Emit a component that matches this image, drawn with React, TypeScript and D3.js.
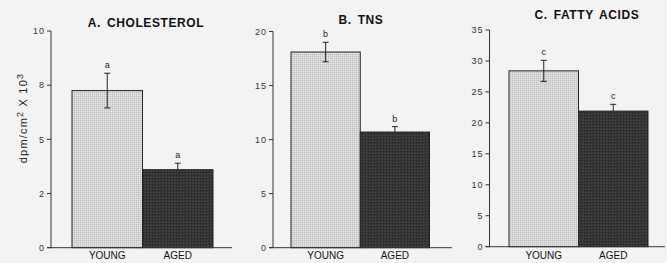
import React from "react";
import * as d3 from "d3";

const categories = ["YOUNG", "AGED"];
const panelTitles = ["A. CHOLESTEROL", "B. TNS", "C. FATTY ACIDS"];
const panelLetters = ["a", "b", "c"];
const cholesterol = [7.25, 3.6];
const cholesterolErr = [0.8, 0.3];
const tns = [18.1, 10.7];
const tnsErr = [0.9, 0.5];
const fattyAcids = [28.4, 21.9];
const fattyAcidsErr = [1.7, 1.1];
const cholTicks = [0, 2.5, 5, 7.5, 10];
const cholTickLabels = ["0", "2", "5", "8", "10"];
const tnsTicks = [0, 5, 10, 15, 20];
const fattyTicks = [0, 5, 10, 15, 20, 25, 30, 35];

const panels = [
  { title: panelTitles[0], letter: panelLetters[0], values: cholesterol, errs: cholesterolErr, max: 10, ticks: cholTicks, labels: cholTickLabels, axisX: 51, barL: 72, barR: 213, lineR: 232, y0: 247.7, yTop: 31, titleX: 146, titleY: 27 },
  { title: panelTitles[1], letter: panelLetters[1], values: tns, errs: tnsErr, max: 20, ticks: tnsTicks, labels: tnsTicks.map(String), axisX: 273, barL: 291, barR: 429.5, lineR: 452, y0: 247.7, yTop: 31.5, titleX: 361, titleY: 24 },
  { title: panelTitles[2], letter: panelLetters[2], values: fattyAcids, errs: fattyAcidsErr, max: 35, ticks: fattyTicks, labels: fattyTicks.map(String), axisX: 489.5, barL: 509, barR: 648, lineR: 665, y0: 246.7, yTop: 30, titleX: 587, titleY: 19 },
];

const font = "'Liberation Sans', Arial, sans-serif";

export default function App() {
  return (
    <svg width={667} height={263} style={{ position: "absolute", left: 0, top: 0, background: "#f3f3f3" }} fontFamily={font}>
      <defs>
        <pattern id="light" width={2} height={2} patternUnits="userSpaceOnUse">
          <rect width={2} height={2} fill="#d6d6d6" />
          <rect width={1} height={1} fill="#bdbdbd" />
          <rect x={1} y={1} width={1} height={1} fill="#e6e6e6" />
        </pattern>
        <pattern id="dark" width={3} height={3} patternUnits="userSpaceOnUse">
          <rect width={3} height={3} fill="#333" />
          <rect width={1} height={1} fill="#4a4a4a" />
          <rect x={2} y={1} width={1} height={1} fill="#232323" />
          <rect x={1} y={2} width={1} height={1} fill="#404040" />
        </pattern>
      </defs>
      <rect width={667} height={263} fill="#f3f3f3" />
      {panels.map((p, pi) => {
        const y = d3.scaleLinear().domain([0, p.max]).range([p.y0, p.yTop]);
        const x = d3.scaleBand().domain(categories).range([p.barL, p.barR]).padding(0);
        return (
          <g key={pi}>
            <text x={p.titleX} y={p.titleY} textAnchor="middle" fontSize={12} fontWeight="bold" fill="#111" letterSpacing={0.6} wordSpacing={2}>{p.title}</text>
            {categories.map((c, i) => {
              const v = p.values[i];
              const e = p.errs[i];
              const bx = x(c)!;
              const bw = x.bandwidth();
              const cx = bx + bw / 2;
              const yt = y(v + e);
              const yb = i === 0 ? y(v - e) : y(v);
              return (
                <g key={c}>
                  <rect x={bx} y={y(v)} width={bw} height={p.y0 - y(v)} fill={i === 0 ? "url(#light)" : "url(#dark)"} stroke="#222" strokeWidth={1} />
                  <line x1={cx} x2={cx} y1={yt} y2={yb} stroke="#222" strokeWidth={1} />
                  <line x1={cx - 3} x2={cx + 3} y1={yt} y2={yt} stroke="#222" strokeWidth={1} />
                  {i === 0 && <line x1={cx - 3} x2={cx + 3} y1={yb} y2={yb} stroke="#222" strokeWidth={1} />}
                  <text x={cx} y={yt - 5} textAnchor="middle" fontSize={9} fill="#222">{p.letter}</text>
                  <text x={cx} y={259} textAnchor="middle" fontSize={10} fill="#111">{c}</text>
                </g>
              );
            })}
            <line x1={p.axisX} x2={p.axisX} y1={p.yTop} y2={p.y0} stroke="#333" strokeWidth={1} />
            <line x1={p.axisX - 4} x2={p.lineR} y1={p.y0} y2={p.y0} stroke="#333" strokeWidth={1} />
            {p.ticks.map((t, ti) => (
              <g key={ti}>
                <line x1={p.axisX - 4} x2={p.axisX} y1={y(t)} y2={y(t)} stroke="#333" strokeWidth={1} />
                <text x={p.axisX - 6} y={y(t)} dy="0.35em" textAnchor="end" fontSize={9} fill="#333" letterSpacing={1}>{p.labels[ti]}</text>
              </g>
            ))}
          </g>
        );
      })}
      <text transform="translate(27,118) rotate(-90)" textAnchor="middle" fontSize={11} fill="#222" letterSpacing={1.2}>
        dpm/cm<tspan dy={-4} fontSize={9}>2</tspan><tspan dy={4}> X 10</tspan><tspan dy={-4} fontSize={9}>3</tspan>
      </text>
    </svg>
  );
}
